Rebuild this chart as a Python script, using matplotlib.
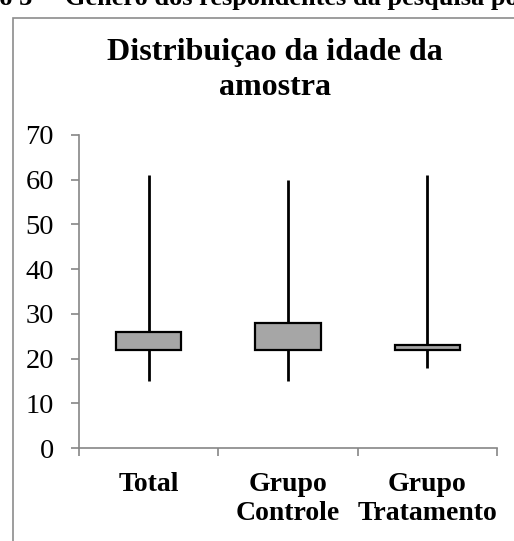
import matplotlib
matplotlib.use("Agg")
import matplotlib.pyplot as plt
from matplotlib.patches import Rectangle
import numpy as np

categories = ["Total", "Grupo\nControle", "Grupo\nTratamento"]
low = [15, 15, 18]
q1 = [22, 22, 22]
q3 = [26, 28, 23]
high = [61, 60, 61]
yticks = [0, 10, 20, 30, 40, 50, 60, 70]

W, H = 514, 541
fig = plt.figure(figsize=(W / 100, H / 100), dpi=100)
serif = ["Liberation Serif", "DejaVu Serif"]

# chart frame
fig.patches.append(Rectangle((13 / W, -0.1), 1.2, 1.1 - 18 / H, transform=fig.transFigure,
                             fill=False, edgecolor="#8c8c8c", linewidth=1.2))
# clipped caption at top
fig.text(52 / W, 1 - 5 / H, "Gráfico 3 –", ha="right", va="baseline",
         family=serif, fontsize=19, fontweight="bold")
fig.text(65 / W, 1 - 5 / H, "Gênero dos respondentes da pesquisa por grupo",
         ha="left", va="baseline", family=serif, fontsize=19, fontweight="bold")

ax = fig.add_axes([79 / W, (541 - 448) / H, 418 / W, 313 / H])
x = np.arange(len(categories))
ax.vlines(x, low, high, color="black", linewidth=2, zorder=2)
ax.bar(x, np.array(q3) - np.array(q1), bottom=q1, width=0.47, color="#a6a6a6",
       edgecolor="black", linewidth=1.6, zorder=3)

ax.set_xlim(-0.5, len(categories) - 0.5)
ax.set_ylim(0, 70)
ax.set_yticks(yticks)
ax.set_yticklabels([str(v) for v in yticks], family=serif, fontsize=20.5)
ax.set_xticks(x)
ax.set_xticklabels(categories, family=serif, fontsize=20, fontweight="bold", linespacing=1.25)
ax.set_xticks(np.arange(-0.5, len(categories), 1.0), minor=True)
ax.tick_params(axis="x", which="major", length=0, pad=17)
ax.tick_params(axis="x", which="minor", length=6, color="#868686", direction="out", width=1.2)
ax.tick_params(axis="y", length=6, color="#868686", width=1.2, pad=12)
for s in ["top", "right"]:
    ax.spines[s].set_visible(False)
for s in ["left", "bottom"]:
    ax.spines[s].set_color("#868686")
    ax.spines[s].set_linewidth(1.2)

fig.text(0.535, 1 - 70 / H, "Distribuiçao da idade da\namostra", ha="center", va="center",
         family=serif, fontsize=23, fontweight="bold", linespacing=1.26)

fig.savefig("out.png", dpi=100)
